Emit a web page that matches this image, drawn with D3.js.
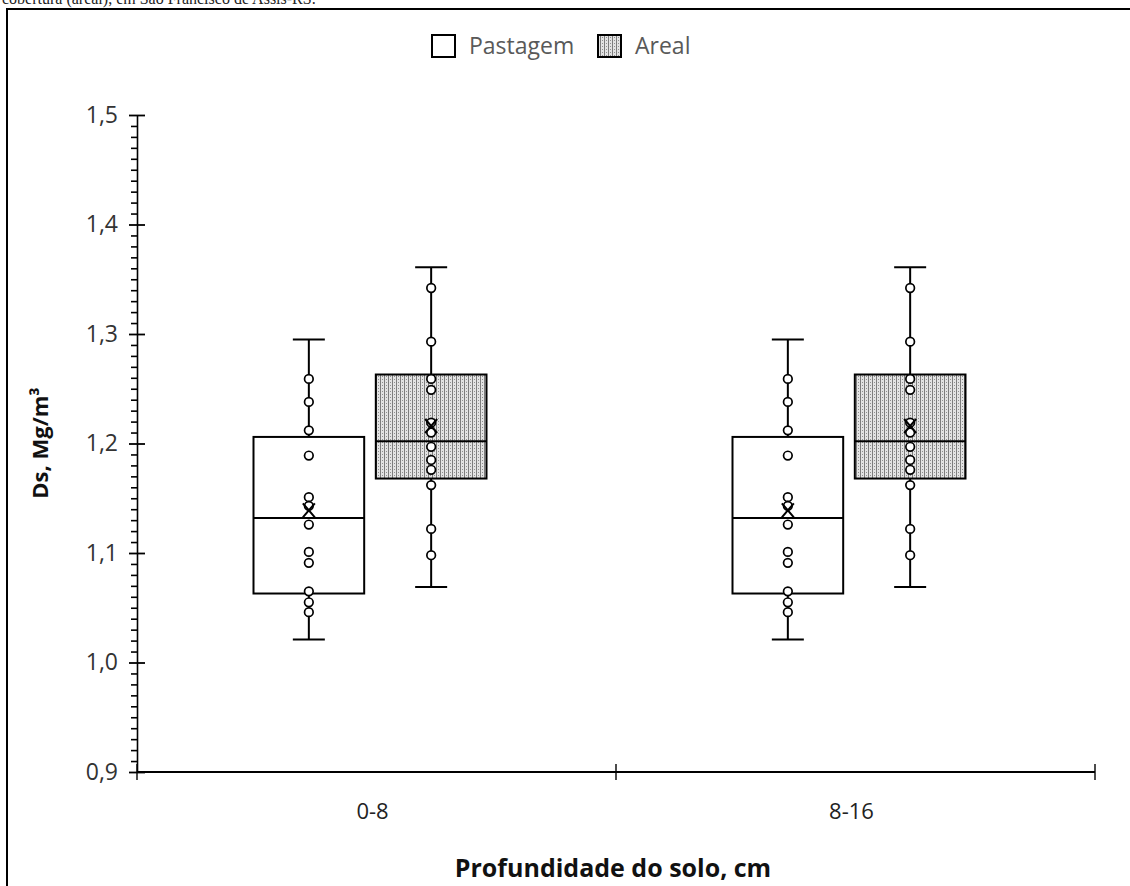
<!DOCTYPE html>
<html>
<head>
<meta charset="utf-8">
<script src="https://cdn.jsdelivr.net/npm/d3@7"></script>
<style>
  body { margin: 0; background: #fff; }
  svg { display: block; }
</style>
</head>
<body>
<script>
// values (Ds in Mg/m3)
var depths = ["0-8", "8-16"];
var series = ["Pastagem", "Areal"];
var yTicks = [0.9, 1.0, 1.1, 1.2, 1.3, 1.4, 1.5];

// box stats per series: [whiskerLow, q1, median, q3, whiskerHigh, mean]
var pastagemStats = [1.021, 1.063, 1.132, 1.206, 1.295, 1.139];
var arealStats = [1.069, 1.168, 1.202, 1.263, 1.361, 1.216];

var pastagemPoints = [1.259, 1.238, 1.212, 1.189, 1.151, 1.143, 1.126, 1.101, 1.091, 1.065, 1.055, 1.046];
var arealPoints = [1.342, 1.293, 1.259, 1.249, 1.219, 1.210, 1.197, 1.185, 1.176, 1.162, 1.122, 1.098];

var W = 1130, H = 886;
var svg = d3.select("body").append("svg").attr("width", W).attr("height", H);

// dotted fill for Areal
var defs = svg.append("defs");
var pat = defs.append("pattern").attr("id", "dots")
  .attr("patternUnits", "userSpaceOnUse").attr("width", 4).attr("height", 3);
pat.append("rect").attr("width", 4).attr("height", 3).attr("fill", "#e3e3e3");
pat.append("rect").attr("x", 0).attr("y", 0).attr("width", 1).attr("height", 3).attr("fill", "#7d7d7d");
pat.append("rect").attr("x", 2).attr("y", 1).attr("width", 1).attr("height", 1).attr("fill", "#8f8f8f");

// caption, cut off at the top of the picture like in the source
svg.append("text").attr("x", 2).attr("y", 4)
  .style("font-family", "Liberation Serif").style("font-size", "16px").attr("fill", "#222")
  .text("cobertura (areal), em São Francisco de Assis-RS.");

// frame
svg.append("rect").attr("x", 7).attr("y", 9).attr("width", W + 20).attr("height", H + 20)
  .attr("fill", "none").attr("stroke", "#000").attr("stroke-width", 2);

var mLeft = 137, mRight = 1095, mTop = 115, mBottom = 772;

var y = d3.scaleLinear().domain([0.9, 1.5]).range([mBottom, mTop]);
var x = d3.scaleBand().domain(depths).range([mLeft, mRight]);
var inner = d3.scaleBand().domain(series).range([-123, 110]).paddingInner(0.095);

var fmt = function(d) { return d3.format(".1f")(d).replace(".", ","); };

// minor ticks every 0.01 (drawn with their own axis)
var minor = d3.range(90, 151).filter(function(v) { return v % 10 !== 0; }).map(function(v) { return v / 100; });
var yMinor = svg.append("g").attr("transform", "translate(" + mLeft + ",0)")
  .call(d3.axisLeft(y).tickValues(minor).tickFormat("").tickSize(6));
yMinor.select(".domain").remove();
yMinor.selectAll(".tick line").attr("stroke", "#000").attr("stroke-width", 1.6);

// y axis with major ticks crossing the line
var yAxis = svg.append("g").attr("transform", "translate(" + mLeft + ",0)")
  .call(d3.axisLeft(y).tickValues(yTicks).tickFormat(fmt).tickSize(0).tickPadding(19));
yAxis.select(".domain").attr("stroke", "#000").attr("stroke-width", 1.6);
yAxis.selectAll("text").style("font-family", "Open Sans").style("font-size", "23px").attr("fill", "#333");
yAxis.selectAll(".tick").append("line").attr("x1", -8).attr("x2", 8)
  .attr("stroke", "#000").attr("stroke-width", 1.8);

// x axis
svg.append("line").attr("x1", mLeft).attr("x2", mRight).attr("y1", mBottom).attr("y2", mBottom)
  .attr("stroke", "#000").attr("stroke-width", 2);
var xEdges = [mLeft, mLeft + x.bandwidth(), mRight];
svg.append("g").selectAll("line").data(xEdges).enter().append("line")
  .attr("x1", function(d) { return d; }).attr("x2", function(d) { return d; })
  .attr("y1", mBottom - 8).attr("y2", mBottom + 8).attr("stroke", "#000").attr("stroke-width", 1.4);
svg.append("g").selectAll("text").data(depths).enter().append("text")
  .attr("x", function(d) { return x(d) + x.bandwidth() / 2 - 4; }).attr("y", 819)
  .attr("text-anchor", "middle").style("font-family", "Open Sans").style("font-size", "22px").attr("fill", "#222")
  .text(function(d) { return d; });

// axis titles
svg.append("text").attr("x", 613).attr("y", 877).attr("text-anchor", "middle")
  .style("font-family", "Open Sans").style("font-size", "25px").style("font-weight", "bold").attr("fill", "#111")
  .text("Profundidade do solo, cm");
svg.append("text").attr("transform", "translate(48,443) rotate(-90)").attr("text-anchor", "middle")
  .style("font-family", "Open Sans").style("font-size", "22px").style("font-weight", "bold").attr("fill", "#111")
  .text("Ds, Mg/m³");

// boxes
var stats = { Pastagem: pastagemStats, Areal: arealStats };
var points = { Pastagem: pastagemPoints, Areal: arealPoints };
var fills = { Pastagem: "#fff", Areal: "url(#dots)" };
var bw = inner.bandwidth();

depths.forEach(function(dep) {
  series.forEach(function(s) {
    var st = stats[s];
    var x0 = x(dep) + x.bandwidth() / 2 + inner(s);
    var cx = x0 + bw / 2;
    var g = svg.append("g");
    // whisker
    g.append("line").attr("x1", cx).attr("x2", cx).attr("y1", y(st[0])).attr("y2", y(st[4]))
      .attr("stroke", "#000").attr("stroke-width", 2);
    [st[0], st[4]].forEach(function(v) {
      g.append("line").attr("x1", cx - 16).attr("x2", cx + 16).attr("y1", y(v)).attr("y2", y(v))
        .attr("stroke", "#000").attr("stroke-width", 2);
    });
    g.append("rect").attr("x", x0).attr("width", bw).attr("y", y(st[3])).attr("height", y(st[1]) - y(st[3]))
      .attr("fill", fills[s]).attr("stroke", "#000").attr("stroke-width", 2);
    g.append("line").attr("x1", x0).attr("x2", x0 + bw).attr("y1", y(st[2])).attr("y2", y(st[2]))
      .attr("stroke", "#000").attr("stroke-width", 2);
    // data points
    g.selectAll("circle").data(points[s]).enter().append("circle")
      .attr("cx", cx).attr("cy", function(d) { return y(d); }).attr("r", 4.3)
      .attr("fill", "#fff").attr("stroke", "#000").attr("stroke-width", 1.7);
    // mean marker
    var my = y(st[5]);
    g.append("path").attr("d", "M" + (cx - 6) + "," + (my - 7) + "L" + (cx + 6) + "," + (my + 7) +
        "M" + (cx + 6) + "," + (my - 7) + "L" + (cx - 6) + "," + (my + 7))
      .attr("stroke", "#000").attr("stroke-width", 2).attr("fill", "none");
  });
});

// legend
var legend = svg.append("g");
var legX = [432, 598];
series.forEach(function(s, i) {
  legend.append("rect").attr("x", legX[i]).attr("y", 35).attr("width", 23).attr("height", 22)
    .attr("fill", fills[s]).attr("stroke", "#000").attr("stroke-width", 2);
  legend.append("text").attr("x", legX[i] + 37).attr("y", 54)
    .style("font-family", "Open Sans").style("font-size", "23px").attr("fill", "#595959").text(s);
});
</script>
</body>
</html>
